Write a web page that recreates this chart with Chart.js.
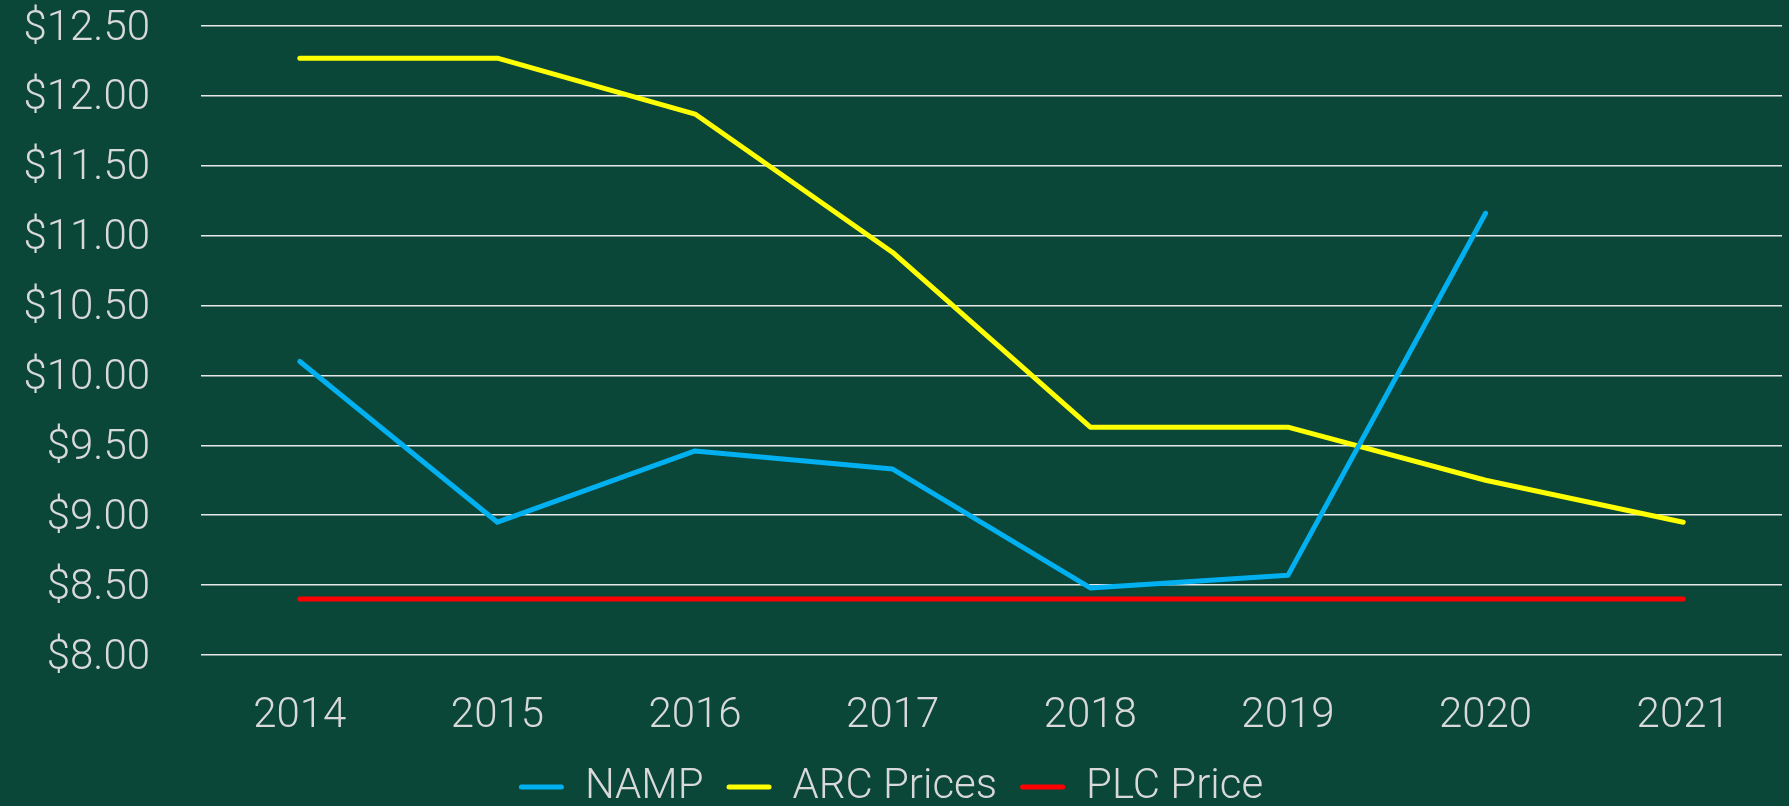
<!DOCTYPE html>
<html>
<head>
<meta charset="utf-8">
<script src="https://cdn.jsdelivr.net/npm/chart.js@4.4.1/dist/chart.umd.min.js"></script>
<style>
  html, body { margin: 0; padding: 0; background: #0A4739; }
  #wrap { width: 1789px; height: 806px; }
</style>
</head>
<body>
<div id="wrap"><canvas id="c"></canvas></div>
<script>
const years = ['2014', '2015', '2016', '2017', '2018', '2019', '2020', '2021'];
const namp = [10.10, 8.95, 9.46, 9.33, 8.48, 8.57, 11.16, null];
const arcPrices = [12.27, 12.27, 11.87, 10.88, 9.63, 9.63, 9.25, 8.95];
const plcPrice = [8.40, 8.40, 8.40, 8.40, 8.40, 8.40, 8.40, 8.40];

const textColor = '#D9D9D9';
const font = { family: 'Roboto', weight: 300, size: 42 };

function line(label, data, color) {
    return {
        label: label,
        data: data,
        borderColor: color,
        backgroundColor: color,
        borderWidth: 5,
        borderCapStyle: 'round',
        borderJoinStyle: 'round',
        pointRadius: 0,
        tension: 0,
        fill: false
    };
}

// legend is a bit shorter than chart.js wants, so it sits lower
const legendHeight = {
    id: 'legendHeight',
    beforeInit(chart) {
        const fit = chart.legend.fit;
        chart.legend.fit = function () {
            fit.call(this);
            this.height = 63;
        };
    }
};

const ctx = document.getElementById('c').getContext('2d');
new Chart(ctx, {
    type: 'line',
    data: {
        labels: years,
        datasets: [
            line('NAMP', namp, '#00B0F0'),
            line('ARC Prices', arcPrices, '#FFFF00'),
            line('PLC Price', plcPrice, '#FF0000')
        ]
    },
    options: {
        responsive: true,
        maintainAspectRatio: false,
        animation: false,
        layout: { padding: { top: 26, right: 7, bottom: 0, left: 0 } },
        scales: {
            x: {
                offset: true,
                grid: { display: false, drawTicks: false },
                border: { display: false },
                ticks: { color: textColor, font: font, padding: 36, maxRotation: 0 },
                afterFit: (s) => { s.height = 88; }
            },
            y: {
                min: 8,
                max: 12.5,
                grid: { color: '#E8E8E8', lineWidth: 1.5, drawTicks: false },
                border: { display: false },
                ticks: {
                    stepSize: 0.5,
                    color: textColor,
                    font: font,
                    padding: 51,
                    labelOffset: 3,
                    callback: (v) => '$' + v.toFixed(2)
                },
                afterFit: (s) => {
                    s.width = 201;
                    // tick padding would otherwise push the plot down
                    s.paddingTop = 0;
                    s.paddingBottom = 0;
                }
            }
        },
        plugins: {
            tooltip: { enabled: false },
            legend: {
                position: 'bottom',
                labels: {
                    color: textColor,
                    font: font,
                    boxWidth: 45,
                    boxHeight: 5,
                    padding: 23,
                    useBorderRadius: true,
                    borderRadius: 2.5,
                    generateLabels: (chart) =>
                        Chart.defaults.plugins.legend.labels.generateLabels(chart)
                            .map(l => ({ ...l, lineWidth: 0 }))
                }
            }
        }
    },
    plugins: [legendHeight]
});
</script>
</body>
</html>
